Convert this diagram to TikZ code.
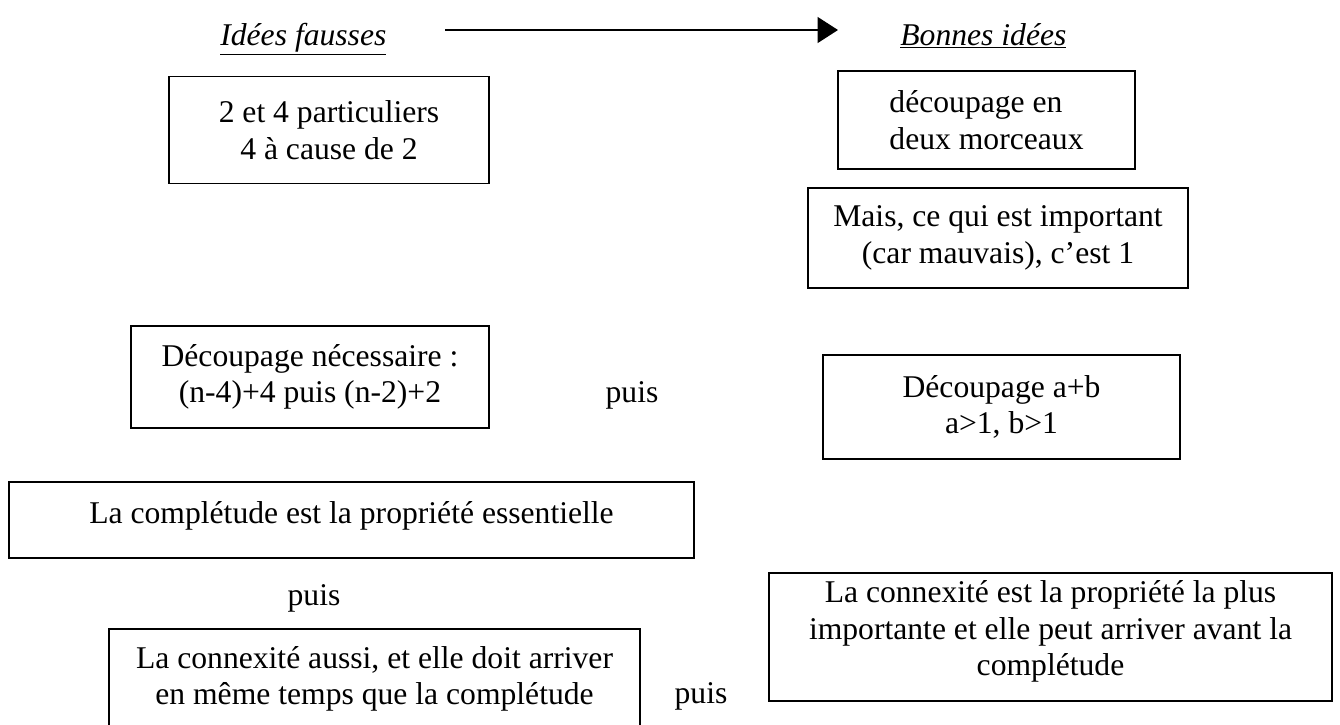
\documentclass[tikz,border=0pt]{standalone}
\usepackage{fontspec}
\setmainfont{Liberation Serif}
\usepackage{tikz}
\usetikzlibrary{arrows.meta}
\tikzset{
  idee box/.style={
    draw=black,
    line width=0.9pt,
    align=center,
    font=\fontsize{18}{20.7}\selectfont,
    inner sep=0pt
  },
  titre/.style={
    anchor=base west,
    inner sep=0pt,
    font=\fontsize{18}{20.7}\selectfont\itshape
  },
  puis label/.style={
    anchor=base,
    inner sep=0pt,
    font=\fontsize{18}{20.7}\selectfont
  },
  sens/.style={
    -{Triangle[length=4.1mm,width=5.2mm]},
    line width=0.9pt
  }
}

\begin{document}
\begin{tikzpicture}
        \clip (0,0) rectangle (26.8,-14.48);

        \node[titre] (fausses) at (4.4,-0.9) {\underline{Idées fausses}};
        \node[titre] (bonnes) at (18.0,-0.9) {\underline{Bonnes idées}};
        \coordinate (sensA) at (8.9,-0.6);
        \coordinate (sensB) at (16.76,-0.6);
        \draw[sens] (sensA) -- (sensB);

        \node[idee box,minimum width=6.4cm,minimum height=2.14cm] (f1) at (6.58,-2.6) {2 et 4 particuliers\\4 à cause de 2};
        \node[idee box,minimum width=7.16cm,minimum height=2.04cm] (f2) at (6.2,-7.54) {Découpage nécessaire :\\(n-4)+4 puis (n-2)+2};
        \node[idee box,minimum width=13.7cm,minimum height=1.52cm,text depth=9pt] (f3) at (7.03,-10.4) {La complétude est la propriété essentielle};
        \node[idee box,minimum width=10.62cm,minimum height=2.0cm] (f4) at (7.49,-13.58) {La connexité aussi, et elle doit arriver\\en même temps que la complétude};

        \node[idee box,minimum width=5.94cm,minimum height=1.96cm,align=left] (b1) at (19.73,-2.4) {découpage en\\deux morceaux};
        \node[idee box,minimum width=7.6cm,minimum height=2.0cm] (b2) at (19.96,-4.76) {Mais, ce qui est important\\(car mauvais), c’est 1};
        \node[idee box,minimum width=7.14cm,minimum height=2.08cm] (b3) at (20.03,-8.14) {Découpage a+b\\a>1, b>1};
        \node[idee box,minimum width=11.26cm,minimum height=2.56cm,text depth=10pt] (b4) at (21.01,-12.74) {La connexité est la propriété la plus\\importante et elle peut arriver avant la\\complétude};

        \node[puis label] (puis1) at (12.64,-8.04) {puis};
        \node[puis label] (puis2) at (6.28,-12.1) {puis};
        \node[puis label] (puis3) at (14.02,-14.06) {puis};
      \end{tikzpicture}
\end{document}
